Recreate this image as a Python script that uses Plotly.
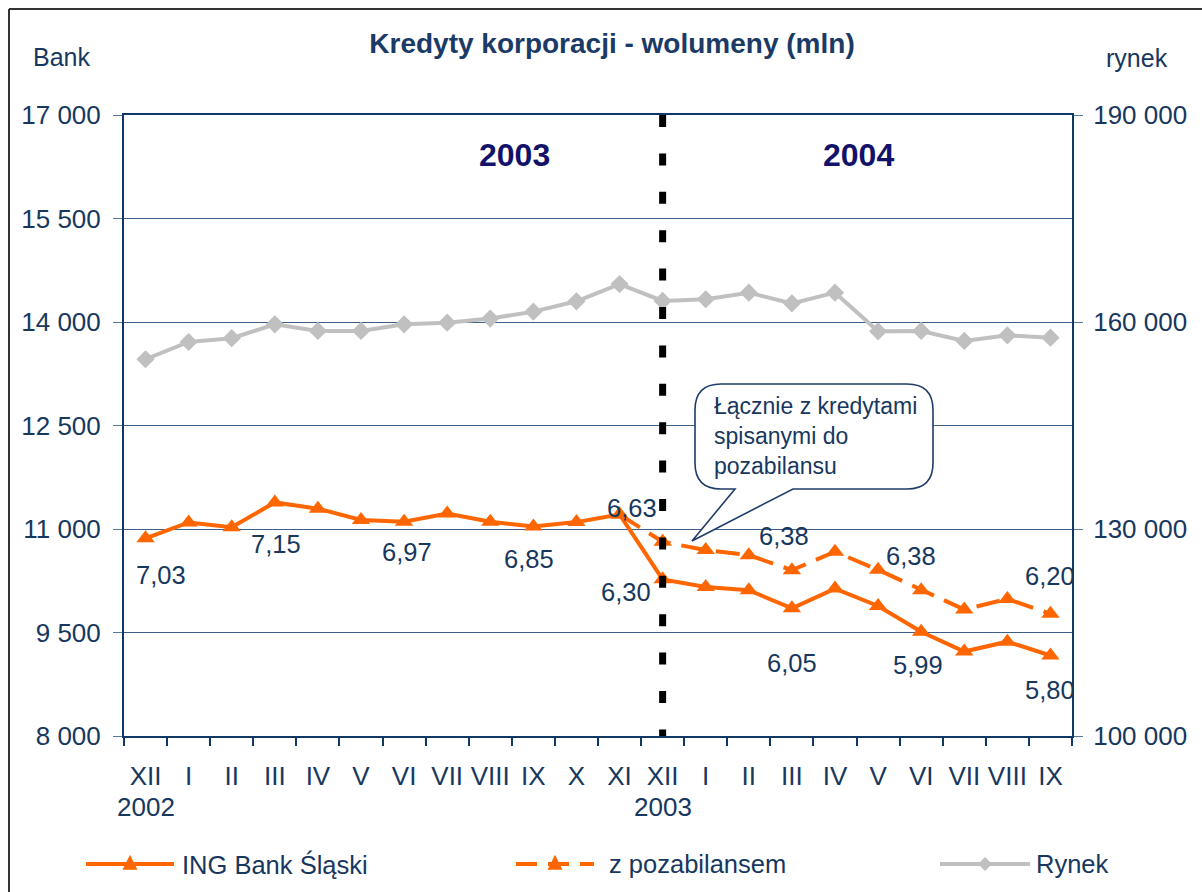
import plotly.graph_objects as go

# ---------------- data ----------------
months = ["XII", "I", "II", "III", "IV", "V", "VI", "VII", "VIII", "IX", "X", "XI",
          "XII", "I", "II", "III", "IV", "V", "VI", "VII", "VIII", "IX"]
year_labels = {0: "2002", 12: "2003"}

ing_bank = [10865, 11095, 11025, 11385, 11295, 11130, 11105, 11225, 11105, 11035, 11100, 11210,
            10270, 10160, 10112, 9850, 10136, 9885, 9510, 9224, 9367, 9167]
z_pozabilansem = [None] * 11 + [11210, 10815, 10694, 10621, 10403, 10670, 10408, 10113,
                                9833, 9986, 9771]
rynek = [154600, 157100, 157650, 159660, 158700, 158700, 159660, 159900, 160500, 161500,
         163000, 165500, 163050, 163300, 164250, 162700, 164250, 158650, 158700, 157250,
         158070, 157730]

# market-share labels: (series, point index, text)
share_labels = [
    ("ing", 0, "7,03"), ("ing", 3, "7,15"), ("ing", 6, "6,97"), ("ing", 9, "6,85"),
    ("ing", 11, "6,63"), ("ing", 12, "6,30"), ("poz", 14, "6,38"), ("ing", 15, "6,05"),
    ("poz", 17, "6,38"), ("ing", 18, "5,99"), ("poz", 21, "6,20"), ("ing", 21, "5,80"),
]

left_ticks = [8000, 9500, 11000, 12500, 14000, 15500, 17000]
right_ticks = [100000, 130000, 160000, 190000]

# ---------------- style ----------------
FONT = "Liberation Sans, Arial, sans-serif"
TXT = "#17375E"
ORANGE = "#FF6600"
GRAY = "#C0C0C0"
NAVY = "#0F3866"

W, H = 1202, 892
L, T, PW, PH = 124, 115, 948, 621


def px(x):
    return (x - L) / PW


def py(y):
    return (T + PH - y) / PH


def fmt(v):
    return f"{v:,}".replace(",", " ")


xs = list(range(len(months)))

fig = go.Figure()
fig.add_trace(go.Scatter(
    x=xs, y=rynek, yaxis="y2", mode="lines+markers", name="Rynek",
    line=dict(color=GRAY, width=4), marker=dict(symbol="diamond", size=14, color=GRAY),
    showlegend=False, hoverinfo="skip"))
fig.add_trace(go.Scatter(
    x=xs, y=z_pozabilansem, mode="lines+markers", name="z pozabilansem",
    line=dict(color=ORANGE, width=4, dash="24px,11px"),
    marker=dict(symbol="triangle-up", size=16, color=ORANGE),
    showlegend=False, hoverinfo="skip"))
fig.add_trace(go.Scatter(
    x=xs, y=ing_bank, mode="lines+markers", name="ING Bank Śląski",
    line=dict(color=ORANGE, width=4),
    marker=dict(symbol="triangle-up", size=16, color=ORANGE),
    showlegend=False, hoverinfo="skip"))

# label offsets (pixels) relative to their point
label_offsets = {
    0: (15, -37), 3: (1, -42), 6: (3, -30), 9: (-4, -32), 11: (12, 7), 12: (-37, -13),
    14: (35, 19), 15: (0, -55), 17: (33, 14), 18: (-3, -33), 21: (0, 0),
}
annotations = []
for series, idx, text in share_labels:
    yv = ing_bank[idx] if series == "ing" else z_pozabilansem[idx]
    dx, dy = label_offsets[idx]
    if idx == 21:
        dy = 38 if series == "poz" else -35
    annotations.append(dict(x=idx, y=yv, xref="x", yref="y", text=text, showarrow=False,
                            xshift=dx, yshift=dy, xanchor="center", yanchor="middle",
                            font=dict(size=25.5, color=TXT, family=FONT)))

# year labels under the axis
for idx, yr in year_labels.items():
    annotations.append(dict(x=idx, y=0, xref="x", yref="paper", text=yr, showarrow=False,
                            yshift=-71, xanchor="center", yanchor="middle",
                            font=dict(size=26, color=TXT, family=FONT)))


def note(x, y, text, size, color=TXT, xanchor="center"):
    annotations.append(dict(x=px(x), y=py(y), xref="paper", yref="paper", text=text,
                            showarrow=False, xanchor=xanchor, yanchor="middle", align="left",
                            font=dict(size=size, color=color, family=FONT)))


# 2003 / 2004 headers
note(514, 155, "<b>2003</b>", 32, "#12126A")
note(858, 155, "<b>2004</b>", 32, "#12126A")
# axis captions
note(62, 57, "Bank", 25)
note(1137, 58, "rynek", 25)
# callout text
note(712, 436, "Łącznie z kredytami<br>spisanymi do<br>pozabilansu", 23, xanchor="left")

# custom legend texts
leg_y = 864
for x0, text in [(180, "ING Bank Śląski"), (607, "z pozabilansem"), (1034, "Rynek")]:
    note(x0, leg_y, text, 25.5, xanchor="left")

shapes = []
# vertical dashed divider at the start of 2004 block
shapes.append(dict(type="line", xref="x", yref="paper", x0=12, x1=12, y0=1, y1=0,
                   line=dict(color="black", width=7, dash="12px,26.4px"), layer="above"))


def path_from(points):
    out = []
    for cmd, pts in points:
        coords = " ".join(f"{px(a):.5f},{py(b):.5f}" for a, b in pts)
        out.append(f"{cmd} {coords}")
    return " ".join(out) + " Z"


# callout bubble
bl, br, bt, bb, r = 695, 933, 384, 489, 26
bubble = [
    ("M", [(bl + r, bt)]), ("L", [(br - r, bt)]), ("Q", [(br, bt), (br, bt + r)]),
    ("L", [(br, bb - r)]), ("Q", [(br, bb), (br - r, bb)]), ("L", [(793, bb)]),
    ("L", [(692, 541)]), ("L", [(735, bb)]), ("L", [(bl + r, bb)]),
    ("Q", [(bl, bb), (bl, bb - r)]), ("L", [(bl, bt + r)]), ("Q", [(bl, bt), (bl + r, bt)]),
]
shapes.append(dict(type="path", xref="paper", yref="paper", path=path_from(bubble),
                   fillcolor="white", line=dict(color="#1F3D6B", width=1.6), layer="above"))

# legend symbols
shapes.append(dict(type="line", xref="paper", yref="paper", x0=px(86), x1=px(174),
                   y0=py(leg_y), y1=py(leg_y), line=dict(color=ORANGE, width=4)))
shapes.append(dict(type="line", xref="paper", yref="paper", x0=px(516), x1=px(594),
                   y0=py(leg_y), y1=py(leg_y), line=dict(color=ORANGE, width=4, dash="21px,11px")))
shapes.append(dict(type="line", xref="paper", yref="paper", x0=px(940), x1=px(1030),
                   y0=py(leg_y), y1=py(leg_y), line=dict(color=GRAY, width=4)))


def tri(cx, cy, s=15):
    return path_from([("M", [(cx, cy - s * 0.55)]), ("L", [(cx + s / 2, cy + s * 0.45)]),
                      ("L", [(cx - s / 2, cy + s * 0.45)])])


def dia(cx, cy, s=14):
    return path_from([("M", [(cx, cy - s / 2)]), ("L", [(cx + s / 2, cy)]),
                      ("L", [(cx, cy + s / 2)]), ("L", [(cx - s / 2, cy)])])


for cx in (130, 555):
    shapes.append(dict(type="path", xref="paper", yref="paper", path=tri(cx, leg_y - 1),
                       fillcolor=ORANGE, line=dict(width=0)))
shapes.append(dict(type="path", xref="paper", yref="paper", path=dia(985, leg_y),
                   fillcolor=GRAY, line=dict(width=0)))

# outer frame (top and left)
shapes.append(dict(type="line", xref="paper", yref="paper", x0=px(9), x1=px(1205),
                   y0=py(9), y1=py(9), line=dict(color="#333333", width=2)))
shapes.append(dict(type="line", xref="paper", yref="paper", x0=px(9), x1=px(9),
                   y0=py(9), y1=py(900), line=dict(color="#333333", width=2)))

fig.update_layout(
    width=W, height=H,
    margin=dict(l=L, r=W - L - PW, t=T, b=H - T - PH, pad=0),
    paper_bgcolor="white", plot_bgcolor="white",
    font=dict(family=FONT, size=26, color=TXT),
    title=dict(text="<b>Kredyty korporacji - wolumeny (mln)</b>", x=px(612), xref="paper",
               xanchor="center", y=1 - 43 / H, yanchor="middle",
               font=dict(size=28, color="#1B3A66", family=FONT)),
    showlegend=False,
    xaxis=dict(range=[-0.5, len(months) - 0.5], tickmode="array", tickvals=xs, ticktext=months,
               ticks="", showgrid=False, zeroline=False, showline=True, mirror=True,
               linecolor=NAVY, linewidth=2, tickfont=dict(size=26, color=TXT),
               ticklabelstandoff=16,
               minor=dict(tickmode="array", tickvals=[i - 0.5 for i in range(len(months) + 1)],
                          ticks="outside", ticklen=8, tickcolor=NAVY, tickwidth=1.5,
                          showgrid=False)),
    yaxis=dict(range=[8000, 17000], tickmode="array", tickvals=left_ticks,
               ticktext=[fmt(v) for v in left_ticks], ticks="outside", ticklen=9,
               tickcolor="#5A7898", showgrid=True, gridcolor="#3E6088", gridwidth=1,
               zeroline=False, showline=True, linecolor=NAVY, linewidth=2,
               tickfont=dict(size=26, color=TXT), ticklabelstandoff=7),
    yaxis2=dict(range=[100000, 190000], overlaying="y", side="right", tickmode="array",
                tickvals=right_ticks, ticktext=[fmt(v) for v in right_ticks], ticks="outside",
                ticklen=9, tickcolor="#5A7898", showgrid=False, zeroline=False, showline=True,
                linecolor=NAVY, linewidth=2, tickfont=dict(size=26, color=TXT),
                ticklabelstandoff=5),
    annotations=annotations,
    shapes=shapes,
)

fig.write_html("out.html", config={"displayModeBar": False},
               post_script="document.body.style.margin='0';document.body.style.overflow='hidden';")
